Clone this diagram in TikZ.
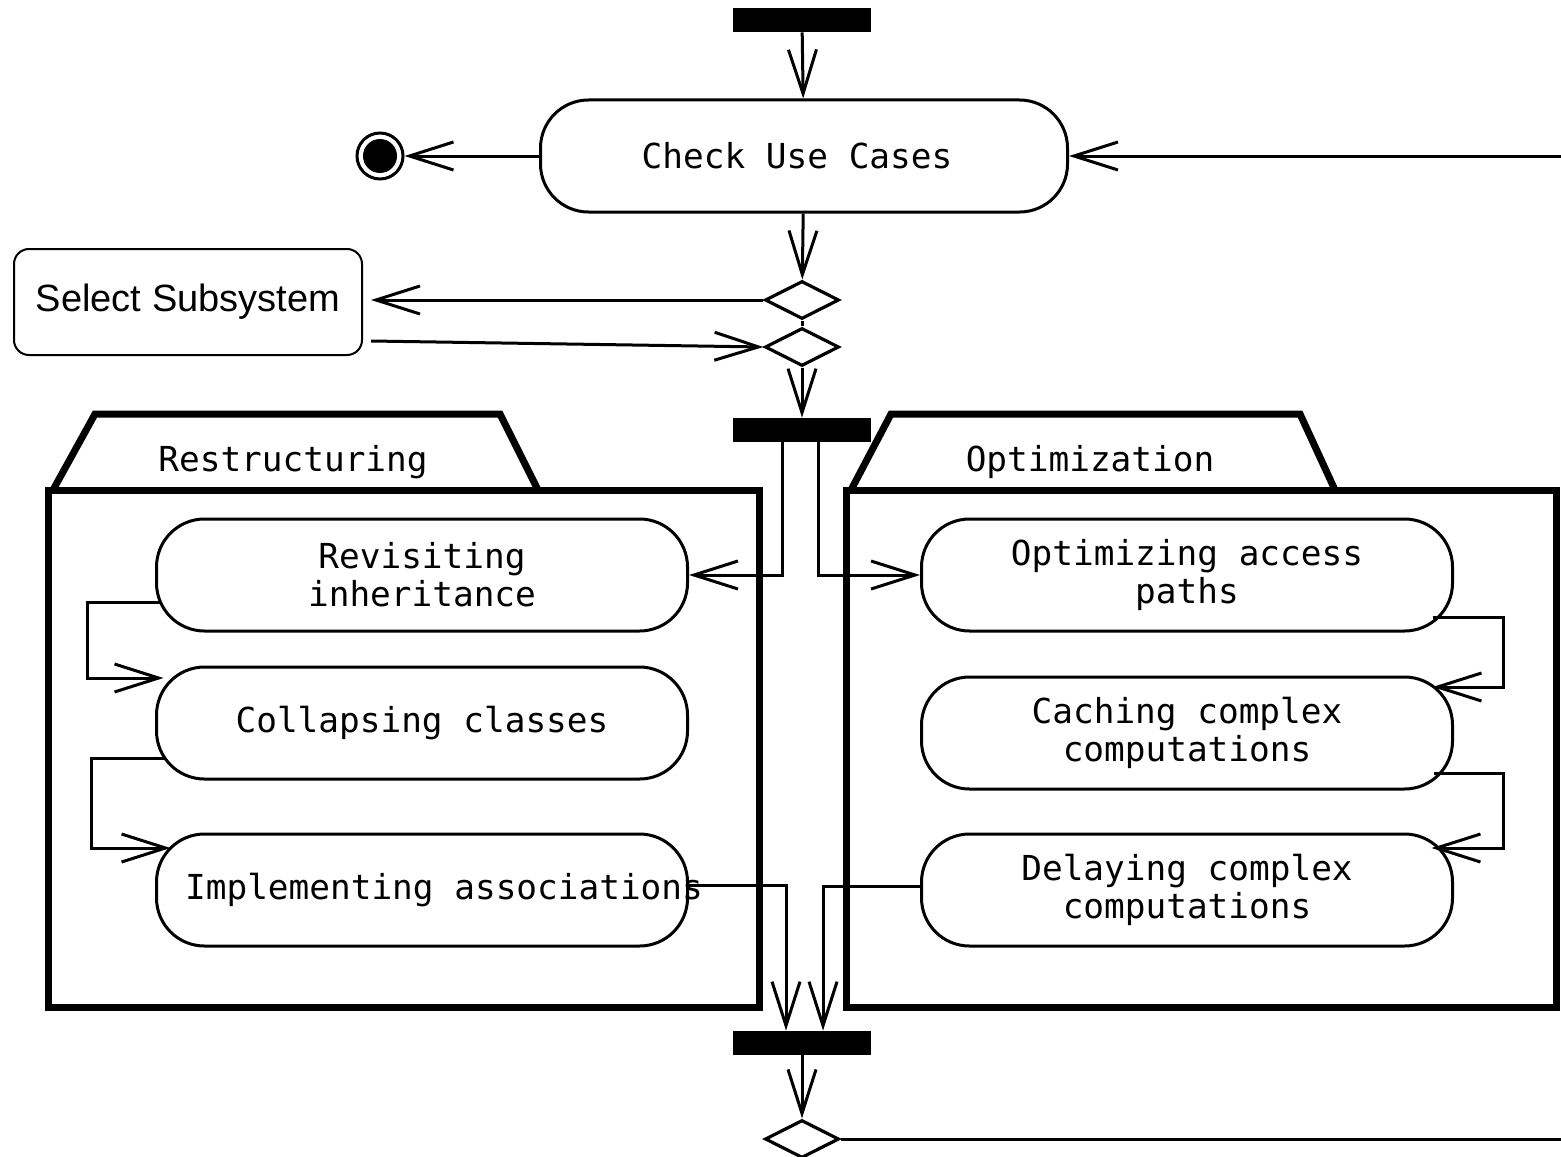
\documentclass[tikz,border=0pt]{standalone}
\usepackage{fontspec}
\setmainfont{Liberation Sans}
\newfontfamily\monofont{DejaVu Sans Mono}
\usetikzlibrary{shapes.geometric,arrows.meta}

\begin{document}
\begin{tikzpicture}[
    x=0.5pt,y=-0.5pt,
	activity/.style={draw, line width=1.5pt, rounded corners=24pt, minimum width=265.5pt, minimum height=56pt, align=center, inner sep=0, font=\monofont\fontsize{17.2}{19}\selectfont},
	bar/.style={fill=black, minimum width=69pt, minimum height=12pt, inner sep=0},
	decision/.style={diamond, draw, line width=1.6pt, minimum width=37pt, minimum height=19pt, inner sep=0},
	flow/.style={line width=1.5pt, -{Straight Barb[length=22pt,width=14pt]}},
	plain/.style={line width=1.5pt},
	part/.style={line width=3.5pt},
	partlabel/.style={font=\monofont\fontsize{17.2}{19}\selectfont}
]
\useasboundingbox (0,0) rectangle (1561,1156);

% partitions
\draw[part] (53,490) -- (95,414) -- (500,414) -- (538,490);
\draw[part] (48,490) rectangle (759,1007);
\node[partlabel] (restr) at (293,462) {Restructuring};

\draw[part] (851,490) -- (891,414) -- (1300,414) -- (1335,490);
\draw[part] (846,490) rectangle (1556,1007);
\node[partlabel] (optimlabel) at (1090,462) {Optimization};

% main flow
\node[bar] (bar1) at (802,20) {};
\node[activity, minimum width=263.5pt] (check) at (804,156) {\makebox[0pt]{\raisebox{-3pt}{Check Use Cases}\hspace{7pt}}};
\node[circle, draw, line width=1.5pt, minimum size=23pt, inner sep=0] (final) at (380,156) {};
\node[circle, fill=black, minimum size=17pt, inner sep=0] (finaldot) at (final) {};
\coordinate (loopin) at (1561,156);

\node[decision] (d1) at (802,300) {};
\node[decision] (d2) at (802,347) {};
\node[draw, line width=1pt, rounded corners=7.5pt, minimum width=174pt, minimum height=53pt, font=\fontsize{19}{23}\selectfont] (sub) at (188,302) {Select Subsystem};
\node[bar] (bar2) at (802,430) {};

\node[activity] (revisit) at (422,575) {Revisiting\\inheritance};
\node[activity] (collapse) at (422,723) {Collapsing classes};
\node[activity] (implement) at (422,890) {\makebox[0pt]{\hspace{22pt}Implementing associations}};

\node[activity] (optim) at (1187,575) {Optimizing access\\paths};
\node[activity] (caching) at (1187,733) {Caching complex\\computations};
\node[activity] (delay) at (1187,890) {Delaying complex\\computations};

\node[bar] (bar3) at (802,1043) {};
\node[decision] (d3) at (802,1139) {};
\coordinate (loopout) at (1561,1139);

% connectors
\draw[flow] (bar1) -- (check);
\draw[flow] (check) -- (final);
\draw[flow] (loopin) -- (check.east);
\draw[flow] (check) -- (d1);
\draw[flow] (d1.west) -- ([xshift=4pt]sub.east |- d1.west);
\draw[flow] ([shift={(4pt,-19.5pt)}]sub.east) -- (d2.west);
\draw[plain] (d1.south) -- (d2.north);
\draw[flow] (d2) -- (bar2);

\draw[flow] ([xshift=-10pt]bar2.south) |- (revisit.east);
\draw[flow] ([xshift=8pt]bar2.south) |- (optim.west);

\draw[flow] ([shift={(2.5pt,-13.5pt)}]revisit.west) -- ++(-36.5pt,0) |- ([shift={(4.25pt,22.5pt)}]collapse.west);
\draw[flow] ([shift={(4.25pt,-17.5pt)}]collapse.west) -- ++(-36pt,0) |- ([shift={(7.75pt,21pt)}]implement.west);
\draw[flow] ([yshift=2.5pt]implement.east) -| ([xshift=-8pt]bar3.north);

\draw[flow] ([shift={(-10.75pt,-21pt)}]optim.east) -- ++(35.5pt,0) |- ([shift={(-10.75pt,23pt)}]caching.east);
\draw[flow] ([shift={(-10.25pt,-20pt)}]caching.east) -- ++(35pt,0) |- ([shift={(-11.25pt,21pt)}]delay.east);
\draw[flow] ([yshift=2pt]delay.west) -| ([xshift=10.5pt]bar3.north);

\draw[flow] (bar3) -- (d3);
\draw[plain] (d3.east) -- (loopout);
\end{tikzpicture}
\end{document}
